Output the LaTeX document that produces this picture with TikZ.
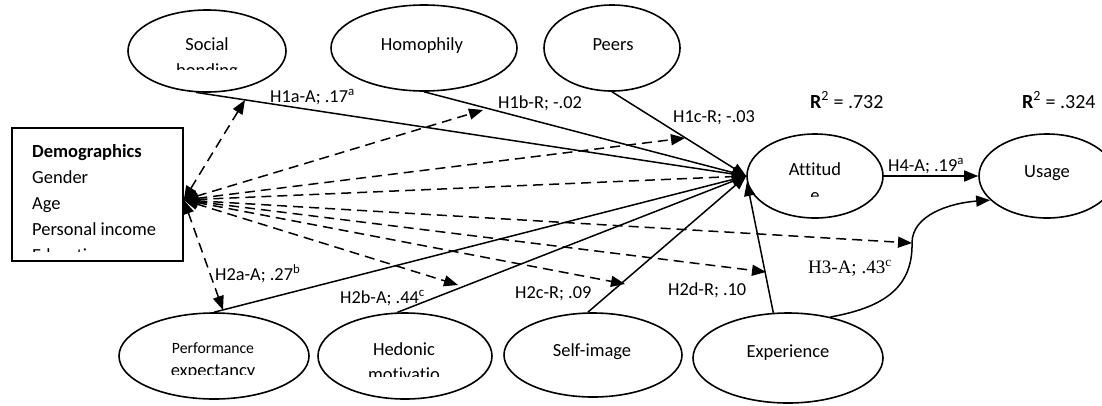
\documentclass[tikz,border=0pt]{standalone}
\usepackage{fontspec}
\setmainfont{Carlito}[Ligatures=NoCommon]
\newfontfamily\timesfont{Liberation Serif}
\usetikzlibrary{arrows.meta,calc,shapes.geometric}

\tikzset{
    oval/.style = {draw, ellipse, line width=1.6pt, inner sep=0pt},
    lbl/.style = {inner sep=0pt, anchor=base, font=\fontsize{18.5}{22}\selectfont},
    hyp/.style = {inner sep=0pt, anchor=base west, font=\fontsize{18.3}{22}\selectfont},
    rsq/.style = {inner sep=0pt, anchor=base west, font=\fontsize{20}{24}\selectfont},
    solidarr/.style = {line width=1.5pt, -{Triangle[length=14pt,width=11pt]}},
    dasharr/.style = {line width=1.5pt, dash pattern=on 10pt off 6pt,
        {Triangle[length=14pt,width=11pt]}-{Triangle[length=14pt,width=11pt]}},
}

\begin{document}
\begin{tikzpicture}[x=1pt, y=-1pt]
        \useasboundingbox (0,0) rectangle (1102,405);

        \node[oval, minimum width=158pt, minimum height=82pt] (soc) at (207,51) {};
        \node[oval, minimum width=186pt, minimum height=86pt] (hom) at (424,48) {};
        \node[oval, minimum width=136pt, minimum height=86pt] (peer) at (612,48) {};
        \node[oval, minimum width=136pt, minimum height=84pt] (att) at (815,176) {};
        \node[oval, minimum width=136pt, minimum height=84pt] (use) at (1047,176) {};
        \node[oval, minimum width=190pt, minimum height=86pt] (perf) at (214,356) {};
        \node[oval, minimum width=174pt, minimum height=86pt] (hed) at (405,356) {};
        \node[oval, minimum width=178pt, minimum height=84pt] (self) at (593,355) {};
        \node[oval, minimum width=190pt, minimum height=90pt] (exp) at (788,358) {};
        \node[draw, line width=1.5pt, inner sep=0pt, minimum width=171pt, minimum height=133pt] (dem) at (97.5,194.5) {};

        \node[lbl] (soc-a) at (207,50) {Social};
        \begin{scope}
            \clip (120,58) rectangle (300,69);
            \node[lbl] (soc-b) at (207,76) {bonding};
        \end{scope}
        \node[lbl] (hom-a) at (422,50) {Homophily};
        \node[lbl] (peer-a) at (613,50) {Peers};
        \node[lbl] (att-a) at (815,175) {Attitud};
        \begin{scope}
            \clip (760,185) rectangle (870,196);
            \node[lbl] (att-b) at (815,201) {e};
        \end{scope}
        \node[lbl] (use-a) at (1047,177) {Usage};
        \node[lbl, font=\fontsize{15.7}{19}\selectfont] (perf-a) at (213,353) {Performance};
        \begin{scope}
            \clip (130,360) rectangle (300,374.5);
            \node[lbl] (perf-b) at (213,376) {expectancy};
        \end{scope}
        \node[lbl] (hed-a) at (404,355) {Hedonic};
        \begin{scope}
            \clip (330,362) rectangle (480,376);
            \node[lbl] (hed-b) at (404,380) {motivatio};
        \end{scope}
        \node[lbl] (self-a) at (592,356) {Self-image};
        \node[lbl] (exp-a) at (788,357) {Experience};
        \begin{scope}
            \clip (14,130) rectangle (181,251);
            \node[anchor=base west, inner sep=0pt, font=\fontsize{18.5}{26}\selectfont] (dem-a) at (32,157) {
                \begin{tabular}[t]{@{}l@{}}
                    \textbf{Demographics} \\
                    Gender \\
                    Age \\
                    Personal income \\
                    Education \\
                \end{tabular}
            };
        \end{scope}

        \node[rsq] (att-r) at (810,108) {\textbf{R}\textsuperscript{2} = .732};
        \node[rsq] (use-r) at (1022,108) {\textbf{R}\textsuperscript{2} = .324};

        \coordinate (dsrc) at ($(dem.east)+(0,5.5)$);
        \coordinate (h1a) at (245,100);
        \coordinate (h1b) at (483,110);
        \coordinate (h1c) at (685,138);
        \coordinate (h2a) at (223,310);
        \coordinate (h2b) at (458,285);
        \coordinate (h2c) at (625,284);
        \coordinate (h2d) at (766,272);
        \coordinate (h3) at (912,243);

        \draw[solidarr] (soc.255) -- (att.west);
        \draw[solidarr] (hom.south) -- (att.west);
        \draw[solidarr] (peer.south) -- (att.west);
        \draw[solidarr] (perf.north) -- (att.west);
        \draw[solidarr] (hed.100) -- (att.west);
        \draw[solidarr] (self.97) -- (att.west);
        \draw[solidarr] (exp.108) -- (att.185);
        \draw[solidarr] (att.east) -- (use.west);
        \draw[solidarr] (exp.44) .. controls (880,308) and (913,290) .. (h3)
            .. controls (912,215) and (950,203) .. (use.203);

        \foreach \t in {h1a,h1b,h1c,att.west,h2a,h2b,h2c,h2d,h3}
            \draw[dasharr] (dsrc) -- (\t);

        \node[hyp] (l1a) at (270,102) {H1a-A; .17\textsuperscript{a}};
        \node[hyp] (l1b) at (498,108) {H1b-R; -.02};
        \node[hyp] (l1c) at (673,122) {H1c-R; -.03};
        \node[hyp] (l2a) at (215,280) {H2a-A; .27\textsuperscript{b}};
        \node[hyp] (l2b) at (340,303) {H2b-A; .44\textsuperscript{c}};
        \node[hyp] (l2c) at (515,298) {H2c-R; .09};
        \node[hyp] (l2d) at (668,295) {H2d-R; .10};
        \node[hyp, font=\timesfont\fontsize{19}{22}\selectfont] (l3) at (808,273) {H3-A; .43\textsuperscript{c}};
        \node[hyp] (l4) at (888,171) {H4-A; .19\textsuperscript{a}};
    \end{tikzpicture}
\end{document}
